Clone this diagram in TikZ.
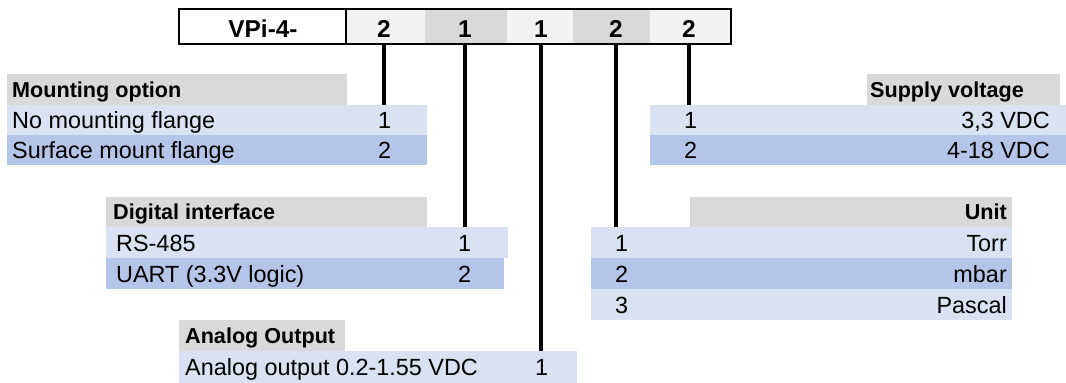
\documentclass[tikz,border=0pt]{standalone}
\usepackage{fontspec}
\setmainfont{Liberation Sans}
\definecolor{hdr}{HTML}{D9D9D9}
\definecolor{rowA}{HTML}{D9E1F2}
\definecolor{rowB}{HTML}{B4C6E7}
\definecolor{cellL}{HTML}{F2F2F2}
\definecolor{cellD}{HTML}{D9D9D9}
\newcommand\bx[6]{\node[bxs, fill=#2, minimum width=#5pt-#3pt, minimum height=#6pt-#4pt] (#1) at (#3,#4) {};}
\begin{document}
\begin{tikzpicture}[x=1pt,y=-1pt,
  bxs/.style={anchor=north west, inner sep=0pt, outer sep=0pt, draw=none},
  txt/.style={inner sep=0pt, font=\fontsize{23.4}{27}\selectfont},
  btxt/.style={inner sep=0pt, font=\fontsize{21.6}{25}\selectfont\bfseries},
  top/.style={inner sep=0pt, font=\fontsize{24.4}{28}\selectfont\bfseries, anchor=base},
  conn/.style={line width=4pt, black}]
\useasboundingbox (0,0) rectangle (1066,383);
% code bar
\bx{c1}{cellL}{346}{9}{425}{44}
\bx{c2}{cellD}{425}{9}{507}{44}
\bx{c3}{cellL}{507}{9}{573}{44}
\bx{c4}{cellD}{573}{9}{650}{44}
\bx{c5}{cellL}{650}{9}{731}{44}
\node[bxs, minimum width=552pt, minimum height=35pt] (bar) at (179,9) {};
\node[bxs, minimum width=167pt, minimum height=35pt] (vp) at (179,9) {};
\draw[line width=2pt] (bar.north west) rectangle (bar.south east);
\draw[line width=2pt] (vp.north east) -- (vp.south east);
\node[top] (vpt) at (263,37) {VPi-4-};
\node[top] (n1) at (384,37) {2};
\node[top] (n2) at (465,37) {1};
\node[top] (n3) at (541,37) {1};
\node[top] (n4) at (616,37) {2};
\node[top] (n5) at (689,37) {2};
% mounting option
\bx{mh}{hdr}{7}{74}{347}{105}
\bx{m1}{rowA}{7}{105}{427}{135}
\bx{m2}{rowB}{7}{135}{427}{165}
\node[btxt, anchor=base west] (mht) at (12,97) {Mounting option};
\node[txt, anchor=base west] (m1t) at (12,128) {No mounting flange};
\node[txt, anchor=base west] (m1n) at (378,128) {1};
\node[txt, anchor=base west] (m2t) at (12,158) {Surface mount flange};
\node[txt, anchor=base west] (m2n) at (378,158) {2};
% digital interface
\bx{dh}{hdr}{106}{197}{427}{227}
\bx{d1}{rowA}{106}{227}{508}{258}
\bx{d2}{rowB}{106}{258}{504}{289}
\node[btxt, anchor=base west] (dht) at (113,219) {Digital interface};
\node[txt, anchor=base west] (d1t) at (116,251) {RS-485};
\node[txt, anchor=base west] (d1n) at (458,251) {1};
\node[txt, anchor=base west] (d2t) at (116,282) {UART (3.3V logic)};
\node[txt, anchor=base west] (d2n) at (458,282) {2};
% analog output
\bx{ah}{hdr}{179}{320}{345}{351}
\bx{a1}{rowA}{179}{351}{577}{383}
\node[btxt, anchor=base west] (aht) at (185,343) {Analog Output};
\node[txt, anchor=base west] (a1t) at (185,375) {Analog output 0.2-1.55 VDC};
\node[txt, anchor=base west] (a1n) at (535,375) {1};
% unit
\bx{uh}{hdr}{690}{197}{1012}{227}
\bx{u1}{rowA}{591}{227}{1012}{258}
\bx{u2}{rowB}{591}{258}{1012}{289}
\bx{u3}{rowA}{591}{289}{1012}{320}
\node[btxt, anchor=base east] (uht) at (1007,219) {Unit};
\node[txt, anchor=base west] (u1n) at (615,251) {1};
\node[txt, anchor=base east] (u1t) at (1007,251) {Torr};
\node[txt, anchor=base west] (u2n) at (615,282) {2};
\node[txt, anchor=base east] (u2t) at (1007,282) {mbar};
\node[txt, anchor=base west] (u3n) at (615,313) {3};
\node[txt, anchor=base east] (u3t) at (1007,313) {Pascal};
% supply voltage
\bx{sh}{hdr}{867}{74}{1060}{105}
\bx{s1}{rowA}{650}{105}{1066}{135}
\bx{s2}{rowB}{650}{135}{1066}{165}
\node[btxt, anchor=base east] (sht) at (1024,97) {Supply voltage};
\node[txt, anchor=base west] (s1n) at (684,128) {1};
\node[txt, anchor=base east] (s1t) at (1050,128) {3,3 VDC};
\node[txt, anchor=base west] (s2n) at (684,158) {2};
\node[txt, anchor=base east] (s2t) at (1050,158) {4-18 VDC};
% connectors
\draw[conn] (n1 |- bar.south) -- (n1 |- m1.north);
\draw[conn] (n2 |- bar.south) -- (n2 |- d1.north);
\draw[conn] (n3 |- bar.south) -- (n3 |- a1.north);
\draw[conn] (n4 |- bar.south) -- (n4 |- u1.north);
\draw[conn] (n5 |- bar.south) -- (n5 |- s1.north);
\end{tikzpicture}
\end{document}
